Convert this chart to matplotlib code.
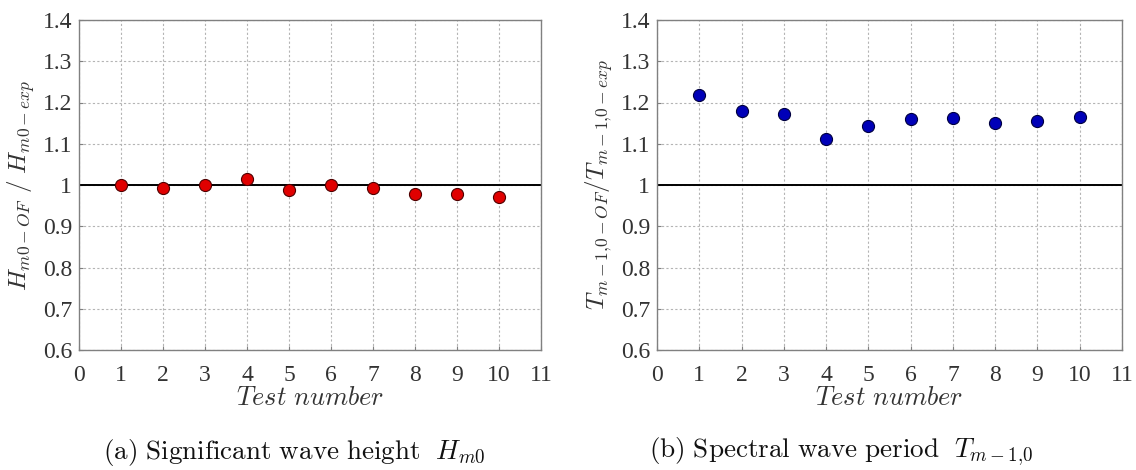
import matplotlib
matplotlib.use("Agg")
import matplotlib.pyplot as plt

plt.rcParams['font.family'] = ['Liberation Serif', 'DejaVu Serif']
plt.rcParams['mathtext.fontset'] = 'cm'

tests = [1, 2, 3, 4, 5, 6, 7, 8, 9, 10]
hm0_ratio = [1.000, 0.992, 1.000, 1.014, 0.987, 1.000, 0.992, 0.977, 0.979, 0.971]
tm_ratio = [1.217, 1.179, 1.172, 1.112, 1.142, 1.161, 1.163, 1.150, 1.154, 1.166]
xticks = list(range(0, 12))
yticks = [0.6, 0.7, 0.8, 0.9, 1.0, 1.1, 1.2, 1.3, 1.4]
yticklabels = ['0.6', '0.7', '0.8', '0.9', '1', '1.1', '1.2', '1.3', '1.4']

fig = plt.figure(figsize=(11.36, 4.70), dpi=100)
ax1 = fig.add_axes([79 / 1136, 1 - 350 / 470, 462 / 1136, 330 / 470])
ax2 = fig.add_axes([657 / 1136, 1 - 350 / 470, 465 / 1136, 330 / 470])

panels = [
    (ax1, hm0_ratio, '#e00000', '#500000', r'$H_{m0-OF}\ /\ H_{m0-exp}$'),
    (ax2, tm_ratio, '#0000b8', '#000040', r'$T_{m-1{,}0-OF}/T_{m-1{,}0-exp}$'),
]
for ax, vals, fc, ec, ylab in panels:
    ax.set_xlim(0, 11)
    ax.set_ylim(0.6, 1.4)
    ax.set_xticks(xticks)
    ax.set_yticks(yticks)
    ax.set_yticklabels(yticklabels)
    ax.grid(True, color='#b4b4b4', linestyle=(0, (2, 2)), linewidth=0.8)
    ax.set_axisbelow(True)
    ax.axhline(1.0, color='black', linewidth=1.4, zorder=2)
    ax.plot(tests, vals, linestyle='none', marker='o', markersize=8.7,
            markerfacecolor=fc, markeredgecolor=ec, markeredgewidth=0.8, zorder=3)
    for sp in ax.spines.values():
        sp.set_color('#808080')
        sp.set_linewidth(1.0)
    ax.tick_params(direction='in', length=3, color='#808080', labelsize=17,
                   labelcolor='#333333')
    ax.tick_params(axis='x', pad=10.5)
    ax.tick_params(axis='y', pad=5)
    ax.set_xlabel(r'$Test\ number$', fontsize=19, color='#333333', labelpad=1)
    ax.set_ylabel(ylab, fontsize=18, color='#333333', labelpad=4)

fig.text(294 / 1136, 1 - 452 / 470,
         r'$\mathrm{(a)\ Significant\ wave\ height}\ \ H_{m0}$', fontsize=19.5,
         ha='center', va='center', color='#111111')
fig.text(841 / 1136, 1 - 452 / 470,
         r'$\mathrm{(b)\ Spectral\ wave\ period}\ \ T_{m-1{,}0}$', fontsize=19.5,
         ha='center', va='center', color='#111111')

fig.savefig('out.png', dpi=100)
